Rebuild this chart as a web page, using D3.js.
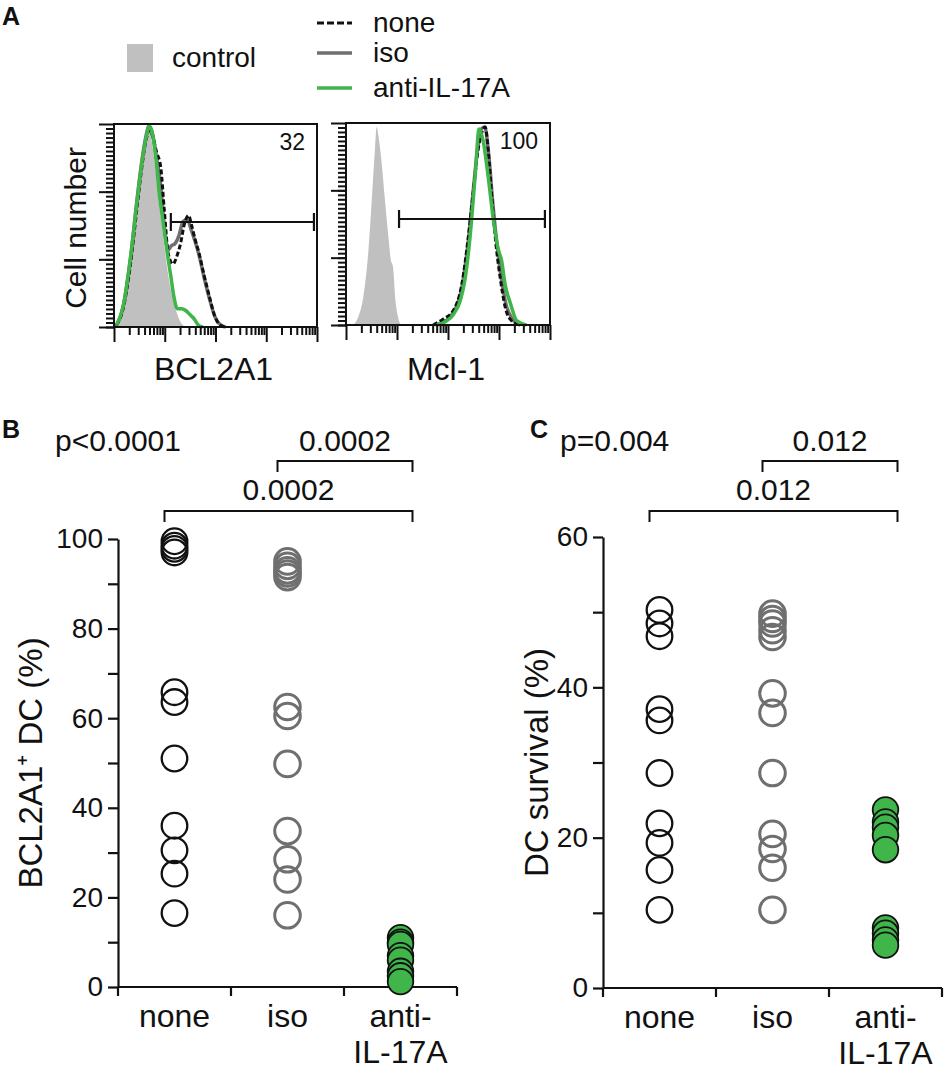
<!DOCTYPE html>
<html>
<head>
<meta charset="utf-8">
<script src="https://cdn.jsdelivr.net/npm/d3@7"></script>
<style>
  body { margin: 0; background: #fff; }
  svg text { font-family: "Liberation Sans", Arial, sans-serif; fill: #111; }
</style>
</head>
<body>
<div class="chart"></div>
<script>
// ---- data (histograms: [log10 decade, relative count]) ----
const bclControl = [[0.02,0],[0.12,0.07],[0.25,0.25],[0.38,0.49],[0.51,0.74],[0.61,0.9],[0.68,0.99],[0.74,0.92],[0.81,0.79],[0.87,0.64],[0.94,0.51],[1.0,0.38],[1.1,0.21],[1.2,0.1],[1.3,0.03],[1.4,0]];
const bclNone = [[0.05,0.01],[0.18,0.09],[0.32,0.3],[0.45,0.58],[0.55,0.79],[0.63,0.92],[0.7,0.97],[0.76,0.94],[0.84,0.86],[0.92,0.79],[0.99,0.58],[1.07,0.36],[1.16,0.31],[1.24,0.35],[1.31,0.41],[1.39,0.51],[1.47,0.55],[1.53,0.5],[1.6,0.43],[1.68,0.36],[1.77,0.26],[1.88,0.15],[1.99,0.05],[2.09,0.01],[2.19,0]];
const bclIso = [[0.03,0],[0.18,0.1],[0.32,0.33],[0.45,0.62],[0.55,0.82],[0.63,0.94],[0.69,0.99],[0.76,0.95],[0.84,0.83],[0.92,0.7],[0.99,0.5],[1.07,0.38],[1.13,0.4],[1.2,0.41],[1.28,0.45],[1.36,0.52],[1.44,0.53],[1.52,0.48],[1.6,0.42],[1.68,0.35],[1.77,0.25],[1.88,0.14],[1.99,0.05],[2.1,0.01],[2.2,0]];
const bclAnti = [[0.05,0.01],[0.18,0.1],[0.32,0.33],[0.45,0.61],[0.55,0.81],[0.63,0.93],[0.7,0.99],[0.76,0.95],[0.83,0.82],[0.89,0.66],[0.96,0.53],[1.04,0.38],[1.12,0.25],[1.18,0.15],[1.25,0.09],[1.33,0.09],[1.42,0.08],[1.5,0.06],[1.58,0.04],[1.66,0.01],[1.75,0]];

const mclControl = [[0.14,0],[0.24,0.04],[0.34,0.14],[0.44,0.37],[0.52,0.68],[0.57,0.88],[0.6,0.98],[0.64,0.93],[0.7,0.8],[0.76,0.63],[0.83,0.44],[0.88,0.32],[0.92,0.29],[0.97,0.12],[1.02,0.04],[1.07,0]];
const mclNone = [[1.71,0],[1.91,0.03],[2.1,0.07],[2.27,0.2],[2.4,0.44],[2.5,0.67],[2.58,0.85],[2.66,0.95],[2.73,0.98],[2.79,0.86],[2.86,0.63],[2.94,0.4],[3.02,0.24],[3.12,0.09],[3.25,0.02],[3.41,0]];
const mclIso = [[1.75,0],[1.95,0.02],[2.1,0.06],[2.26,0.17],[2.4,0.42],[2.5,0.68],[2.58,0.87],[2.65,0.97],[2.72,0.98],[2.8,0.84],[2.88,0.6],[2.96,0.4],[3.04,0.24],[3.14,0.1],[3.26,0.03],[3.42,0]];
const mclAnti = [[1.78,0],[1.97,0.02],[2.1,0.05],[2.24,0.12],[2.33,0.22],[2.43,0.43],[2.53,0.73],[2.61,0.97],[2.69,0.91],[2.79,0.73],[2.89,0.52],[2.99,0.37],[3.05,0.32],[3.12,0.2],[3.22,0.11],[3.35,0.02],[3.54,0]];

const bclGate = [1.12, 3.94];
const mclGate = [1.04, 3.9];
const bclPct = '32';
const mclPct = '100';

// ---- data (strip plots) ----
const groups = ['none', 'iso', 'anti'];
const groupLabels = [['none'], ['iso'], ['anti-', 'IL-17A']];
const bNone = [99.5, 98.5, 97.8, 97, 65.8, 63.6, 51, 36, 30.5, 25.3, 16.5];
const bIso = [95, 94, 93, 92.3, 91.5, 62.5, 60.5, 49.8, 34.8, 28.5, 24, 16];
const bAnti = [11, 10, 9.5, 7, 6, 3.5, 2.5, 1.2];
const cNone = [50.3, 48.5, 46.8, 37.1, 35.6, 28.6, 21.9, 19.3, 15.7, 10.4];
const cIso = [49.8, 49.1, 48.5, 47.6, 46.7, 39.2, 36.6, 28.6, 20.5, 18.5, 16, 10.4];
const cAnti = [23.7, 22.1, 21.4, 20.3, 18.4, 8, 7.3, 6.4, 5.7];
const bTicks = [0, 20, 40, 60, 80, 100];
const bMinor = [10, 30, 50, 70, 90];
const cTicks = [0, 20, 40, 60];
const cMinor = [10, 30, 50];
const bStats = {overall: 'p<0.0001', pairs: [['iso', 'anti', '0.0002'], ['none', 'anti', '0.0002']]};
const cStats = {overall: 'p=0.004', pairs: [['iso', 'anti', '0.012'], ['none', 'anti', '0.012']]};

const GREEN = '#3fb54a', GREY = '#6f6f6f', FILLGREY = '#c0c0c0';

const svg = d3.select('.chart').append('svg')
  .attr('width', 945).attr('height', 1070);

// panel letters
[['A', 2, 25], ['B', 2, 438], ['C', 530, 438]].forEach(p => {
  svg.append('text').attr('x', p[1]).attr('y', p[2]).text(p[0])
    .style('font-size', '25px').style('font-weight', 'bold');
});

// ---- legend ----
svg.append('rect').attr('x', 127).attr('y', 44).attr('width', 26).attr('height', 28).attr('fill', FILLGREY);
svg.append('text').attr('x', 172).attr('y', 67).text('control').style('font-size', '28px');
const legendItems = [
  {label: 'none', y: 23, color: '#111', dash: '7,3', w: 3},
  {label: 'iso', y: 53, color: GREY, dash: null, w: 3.5},
  {label: 'anti-IL-17A', y: 88, color: GREEN, dash: null, w: 3.5}
];
legendItems.forEach(d => {
  svg.append('line').attr('x1', 317).attr('x2', 352).attr('y1', d.y).attr('y2', d.y)
    .attr('stroke', d.color).attr('stroke-width', d.w).attr('stroke-dasharray', d.dash);
  svg.append('text').attr('x', 373).attr('y', d.y + 9).text(d.label).style('font-size', '28px');
});

// ---- histograms ----
function histogram(opt) {
  const x = d3.scaleLinear().domain([0, 4]).range([opt.left, opt.right]);
  const y = d3.scaleLinear().domain([0, 1]).range([opt.bottom, opt.top]);
  const g = svg.append('g');

  const area = d3.area().x(d => x(d[0])).y0(y(0)).y1(d => y(d[1])).curve(d3.curveMonotoneX);
  const line = d3.line().x(d => x(d[0])).y(d => y(d[1])).curve(d3.curveMonotoneX);

  g.append('path').datum(opt.control).attr('d', area).attr('fill', FILLGREY);
  g.append('path').datum(opt.iso).attr('d', line).attr('fill', 'none')
    .attr('stroke', GREY).attr('stroke-width', 3.5);
  g.append('path').datum(opt.none).attr('d', line).attr('fill', 'none')
    .attr('stroke', '#111').attr('stroke-width', 3).attr('stroke-dasharray', '5,2.5');
  g.append('path').datum(opt.anti).attr('d', line).attr('fill', 'none')
    .attr('stroke', GREEN).attr('stroke-width', 3.5);

  // frame
  g.append('rect').attr('x', opt.left).attr('y', opt.top)
    .attr('width', opt.right - opt.left).attr('height', opt.bottom - opt.top)
    .attr('fill', 'none').attr('stroke', '#111').attr('stroke-width', 2);

  // x ticks (log decades)
  const major = d3.range(0, 5);
  const minor = [];
  for (let k = 0; k < 4; k++) for (let m = 2; m <= 9; m++) minor.push(k + Math.log10(m));
  const xMaj = g.append('g').attr('transform', `translate(0,${opt.bottom})`)
    .call(d3.axisBottom(x).tickValues(major).tickSize(15).tickFormat(''));
  const xMin = g.append('g').attr('transform', `translate(0,${opt.bottom})`)
    .call(d3.axisBottom(x).tickValues(minor).tickSize(8).tickFormat(''));
  // y ticks
  const yMaj = g.append('g').attr('transform', `translate(${opt.left},0)`)
    .call(d3.axisLeft(y).tickValues([0, 1 / 3, 2 / 3, 1]).tickSize(15).tickFormat(''));
  const yMin = g.append('g').attr('transform', `translate(${opt.left},0)`)
    .call(d3.axisLeft(y).tickValues(d3.range(0, 45).map(i => i / 45)).tickSize(8).tickFormat(''));
  [xMaj, xMin, yMaj, yMin].forEach(a => {
    a.select('.domain').remove();
    a.selectAll('line').attr('stroke', '#111').attr('stroke-width', 2);
  });

  // gate
  const gy = opt.gateY;
  g.append('line').attr('x1', x(opt.gate[0])).attr('x2', x(opt.gate[1]))
    .attr('y1', gy).attr('y2', gy).attr('stroke', '#111').attr('stroke-width', 2.2);
  opt.gate.forEach(v => {
    g.append('line').attr('x1', x(v)).attr('x2', x(v)).attr('y1', gy - 9).attr('y2', gy + 9)
      .attr('stroke', '#111').attr('stroke-width', 2.2);
  });
  g.append('text').attr('x', opt.right - 12).attr('y', opt.top + 26).attr('text-anchor', 'end')
    .text(opt.pct).style('font-size', '23px');
  g.append('text').attr('x', (opt.left + opt.right) / 2 - 2).attr('y', 380).attr('text-anchor', 'middle')
    .text(opt.name).style('font-size', '32px');
}

histogram({left: 114, right: 317, top: 124, bottom: 327, control: bclControl, none: bclNone,
  iso: bclIso, anti: bclAnti, gate: bclGate, gateY: 222, pct: bclPct, name: 'BCL2A1'});
histogram({left: 346, right: 550, top: 123, bottom: 325, control: mclControl, none: mclNone,
  iso: mclIso, anti: mclAnti, gate: mclGate, gateY: 219, pct: mclPct, name: 'Mcl-1'});

svg.append('text').attr('transform', 'translate(86,228) rotate(-90)').attr('text-anchor', 'middle')
  .text('Cell number').style('font-size', '30px');

// ---- strip plots ----
function strip(opt) {
  const x = d3.scaleBand().domain(groups).range([opt.left, opt.left + 339]);
  const y = d3.scaleLinear().domain([0, opt.max]).range([opt.bottom, opt.top]);
  const g = svg.append('g');

  const yAxis = g.append('g').attr('transform', `translate(${opt.left},0)`)
    .call(d3.axisLeft(y).tickValues(opt.ticks).tickSize(10).tickSizeOuter(0).tickPadding(5));
  const yMinor = g.append('g').attr('transform', `translate(${opt.left},0)`)
    .call(d3.axisLeft(y).tickValues(opt.minor).tickSize(10).tickFormat(''));
  yMinor.select('.domain').remove();
  yAxis.selectAll('text').style('font-size', '28px').style('font-family', '"Liberation Sans", Arial, sans-serif').attr('fill', '#111');
  [yAxis, yMinor].forEach(a => {
    a.selectAll('line').attr('stroke', '#111').attr('stroke-width', 2.2);
    a.select('.domain').attr('stroke', '#111').attr('stroke-width', 2.2);
  });

  // x axis with ticks at band boundaries
  const bounds = [0, 1, 2, 3].map(i => opt.left + i * x.bandwidth());
  g.append('line').attr('x1', opt.left).attr('x2', opt.left + 339)
    .attr('y1', opt.bottom).attr('y2', opt.bottom).attr('stroke', '#111').attr('stroke-width', 2.2);
  g.selectAll('.xt').data(bounds).join('line').attr('class', 'xt')
    .attr('x1', d => d).attr('x2', d => d).attr('y1', opt.bottom).attr('y2', opt.bottom + 9)
    .attr('stroke', '#111').attr('stroke-width', 2.2);
  groups.forEach((gname, i) => {
    groupLabels[i].forEach((s, j) => {
      g.append('text').attr('text-anchor', 'middle').style('font-size', '32px')
        .attr('x', x(gname) + x.bandwidth() / 2).attr('y', opt.bottom + 40 + j * 36).text(s);
    });
  });

  // points
  const series = [
    {name: 'none', values: opt.none, stroke: '#111', fill: 'none', w: 2.3},
    {name: 'iso', values: opt.iso, stroke: GREY, fill: 'none', w: 3},
    {name: 'anti', values: opt.anti, stroke: '#111', fill: GREEN, w: 1.8}
  ];
  series.forEach(s => {
    g.selectAll(null).data(s.values).join('circle')
      .attr('cx', x(s.name) + x.bandwidth() / 2)
      .attr('cy', d => y(d))
      .attr('r', 12.8)
      .attr('fill', s.fill).attr('stroke', s.stroke).attr('stroke-width', s.w);
  });

  // y label
  g.append('text').attr('transform', `translate(${opt.labelX},${(opt.top + opt.bottom) / 2}) rotate(-90)`)
    .attr('text-anchor', 'middle').text(opt.ylabel).style('font-size', '33px');

  // stats
  const cx = n => x(n) + x.bandwidth() / 2;
  g.append('text').attr('x', opt.pX).attr('y', 451).text(opt.stats.overall).style('font-size', '30px');
  const levels = [{y: 461, ty: 451}, {y: 511, ty: 500}];
  opt.stats.pairs.forEach((p, i) => {
    const x1 = cx(p[0]) - 10, x2 = cx(p[1]) + 12, ly = levels[i].y;
    g.append('path').attr('d', `M${x1},${ly + 11}V${ly}H${x2}V${ly + 11}`)
      .attr('fill', 'none').attr('stroke', '#111').attr('stroke-width', 2);
    g.append('text').attr('x', (x1 + x2) / 2).attr('y', levels[i].ty).attr('text-anchor', 'middle')
      .text(p[2]).style('font-size', '30px');
  });
}

strip({left: 118, top: 539, bottom: 987, max: 100, ticks: bTicks, minor: bMinor,
  none: bNone, iso: bIso, anti: bAnti, ylabel: 'BCL2A1\u207A DC (%)', labelX: 42, stats: bStats, pX: 55});
strip({left: 603, top: 537, bottom: 988, max: 60, ticks: cTicks, minor: cMinor,
  none: cNone, iso: cIso, anti: cAnti, ylabel: 'DC survival (%)', labelX: 548, stats: cStats, pX: 560});
</script>
</body>
</html>
